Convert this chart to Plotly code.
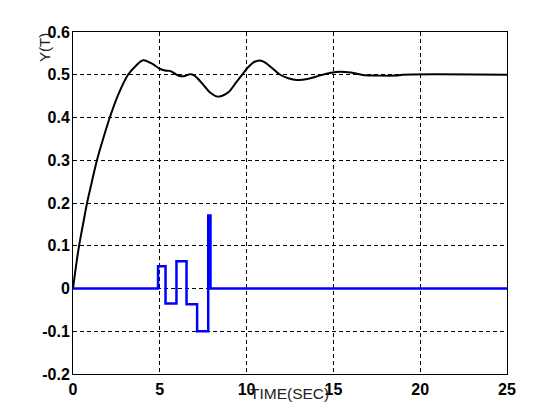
import plotly.graph_objects as go

# --- data ---
resp_t = [0, 0.2, 0.35, 0.6, 0.81, 1.1, 1.38, 1.75, 2.12, 2.6, 3.17, 3.6, 4.04,
          4.5, 5.0, 5.3, 5.58, 5.85, 6.15, 6.45, 6.73, 7.0, 7.3, 7.6, 7.88, 8.3,
          8.6, 8.95, 9.4, 9.8, 10.1, 10.4, 10.67, 11.0, 11.4, 11.93, 12.4, 12.9,
          13.5, 14.2, 14.8, 15.4, 16.0, 16.8, 17.5, 18.6, 19.0, 25]
resp_y = [0, 0.06, 0.1, 0.155, 0.2, 0.252, 0.3, 0.352, 0.4, 0.453, 0.5, 0.52, 0.534,
          0.527, 0.514, 0.51, 0.509, 0.503, 0.497, 0.497, 0.501, 0.498, 0.486, 0.472,
          0.459, 0.449, 0.451, 0.459, 0.482, 0.503, 0.518, 0.529, 0.533, 0.53, 0.518,
          0.5, 0.492, 0.488, 0.49, 0.498, 0.504, 0.507, 0.505, 0.499, 0.498, 0.498,
          0.5, 0.5]

ctrl_t = [0, 4.9, 5.33, 5.96, 6.54, 7.15, 7.79, 7.92, 25]
ctrl_u = [0, 0.052, -0.035, 0.064, -0.037, -0.1, 0.171, 0, 0]

x_ticks = [0, 5, 10, 15, 20, 25]
y_ticks = [-0.2, -0.1, 0, 0.1, 0.2, 0.3, 0.4, 0.5, 0.6]
y_ticktext = ["-0.2", "-0.1", "0", "0.1", "0.2", "0.3", "0.4", "0.5", "0.6"]

TICK_FONT = {"family": "Liberation Sans, Arial", "size": 16, "color": "black",
             "weight": "bold"}
LABEL_FONT = {"family": "Liberation Sans, Arial", "size": 15, "color": "#222"}

fig = go.Figure()
fig.add_trace(go.Scatter(x=resp_t, y=resp_y, mode="lines", line_shape="spline",
                         line={"color": "black", "width": 2}))
fig.add_trace(go.Scatter(x=ctrl_t, y=ctrl_u, mode="lines", line_shape="hv",
                         line={"color": "#0000ff", "width": 2.5}))

axis_common = {
    "showgrid": True, "gridcolor": "black", "griddash": "4px,3px", "gridwidth": 1,
    "showline": True, "linecolor": "black", "linewidth": 1, "mirror": True,
    "zeroline": False, "ticks": "", "tickfont": TICK_FONT,
}

# page body adds 8px, so the figure is 552x412 to fill the 560x420 window
fig.update_layout(
    width=552, height=412,
    paper_bgcolor="white", plot_bgcolor="white",
    showlegend=False,
    margin={"l": 65, "r": 53, "t": 24, "b": 46},
    xaxis={**axis_common, "range": [0, 25], "tickvals": x_ticks, "ticklabelstandoff": 1},
    yaxis={**axis_common, "range": [-0.2, 0.6], "tickvals": y_ticks,
           "ticktext": y_ticktext, "ticklabelstandoff": -1},
    annotations=[
        {"text": "TIME(SEC)", "x": 0.499, "y": -0.056, "xref": "paper", "yref": "paper",
         "xanchor": "center", "yanchor": "middle", "showarrow": False,
         "font": {**LABEL_FONT, "size": 15.5}},
        {"text": "Y(T)", "x": -0.067, "y": 0.956, "xref": "paper", "yref": "paper",
         "xanchor": "center", "yanchor": "middle", "showarrow": False,
         "textangle": -90, "font": LABEL_FONT},
    ],
)

fig.write_html("out.html")
